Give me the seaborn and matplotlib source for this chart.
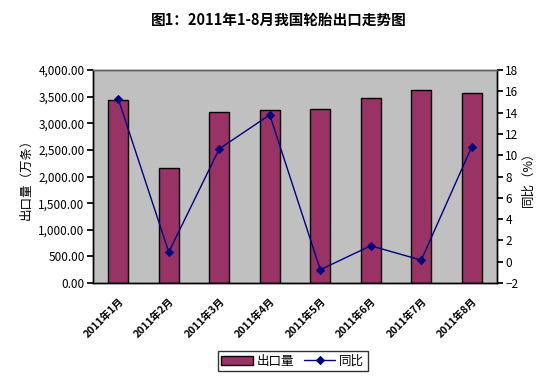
import matplotlib
matplotlib.use("Agg")
import matplotlib.pyplot as plt
import matplotlib.ticker as mticker
import numpy as np
import pandas as pd
import seaborn as sns

months = ["2011年1月", "2011年2月", "2011年3月", "2011年4月",
          "2011年5月", "2011年6月", "2011年7月", "2011年8月"]
exports = [3440, 2157, 3205, 3243, 3262, 3468, 3619, 3568]
yoy = [15.3, 0.9, 10.6, 13.8, -0.75, 1.5, 0.15, 10.8]

sns.set_theme(style="white")
plt.rcParams['font.family'] = ['Noto Sans CJK SC', 'DejaVu Sans']
plt.rcParams['text.color'] = 'black'
plt.rcParams['axes.labelcolor'] = 'black'
plt.rcParams['xtick.color'] = 'black'
plt.rcParams['ytick.color'] = 'black'

df = pd.DataFrame({"month": months, "exports": exports, "yoy": yoy})

fig = plt.figure(figsize=(5.42, 3.83), dpi=100)
ax = fig.add_axes([0.1716, 0.261, 0.7454, 0.556])
ax.set_facecolor("#C0C0C0")

sns.barplot(data=df, x="month", y="exports", color="#993366", width=0.4,
            edgecolor="black", linewidth=1, saturation=1, ax=ax, zorder=2)

ax2 = ax.twinx()
sns.lineplot(x=np.arange(len(months)), y=df["yoy"], ax=ax2, color="#000080",
             marker="D", markersize=4, markeredgecolor="#000080",
             linewidth=1, zorder=3)

ax.set_xlim(-0.5, len(months) - 0.5)
ax.set_ylim(0, 4000)
ax.set_yticks(np.arange(0, 4001, 500))
ax.yaxis.set_major_formatter(mticker.FuncFormatter(lambda v, p: f"{v:,.2f}"))
ax2.set_ylim(-2, 18)
ax2.set_yticks(np.arange(-2, 19, 2))

ax.set_xlabel("")
ax.set_ylabel("出口量（万条）", fontsize=9, labelpad=4)
ax2.set_ylabel("同比（%）", fontsize=9, labelpad=2)

ax.set_xticks(np.arange(len(months)))
ax.set_xticklabels(months, rotation=45, ha="right", rotation_mode="anchor",
                   fontsize=7.5, fontweight="bold")
ax.tick_params(axis="x", which="major", length=0, pad=9)
ax.set_xticks(np.arange(-0.5, len(months), 1), minor=True)
ax.tick_params(axis="x", which="minor", length=4, direction="in", color="black")
ax.tick_params(axis="y", length=4, direction="out", color="black", labelsize=8.5, pad=2)
ax2.tick_params(axis="y", length=4, direction="out", color="black", labelsize=8.5, pad=2)

for a in (ax, ax2):
    for s in a.spines.values():
        s.set_color("black")
        s.set_linewidth(1)
ax2.spines["top"].set_color("#606060")
ax.spines["top"].set_color("#606060")

fig.text(0.514, 0.948, "图1：2011年1-8月我国轮胎出口走势图", ha="center", va="center",
         fontsize=10.5, fontweight="bold", color="black")

handles = [ax.patches[0], ax2.lines[0]]
fig.legend(handles, ["出口量", "同比"], loc="center", bbox_to_anchor=(0.54, 0.057),
           ncol=2, fontsize=9, frameon=True, fancybox=False, edgecolor="black",
           handlelength=2.5, handletextpad=0.3, columnspacing=0.8,
           borderpad=0.3, labelcolor="black")

fig.savefig("out.png", dpi=100)
